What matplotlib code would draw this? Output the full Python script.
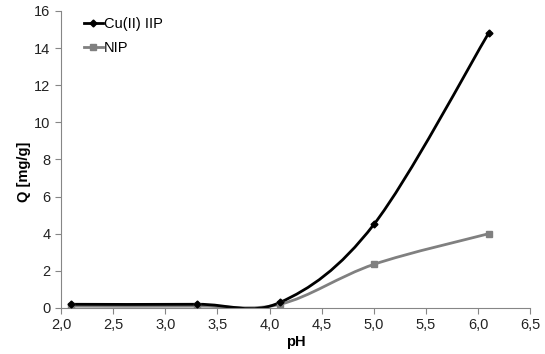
import numpy as np
import matplotlib.pyplot as plt
from matplotlib.path import Path
from matplotlib.patches import PathPatch
from matplotlib.lines import Line2D

plt.rcParams['font.family'] = ['Liberation Sans', 'DejaVu Sans']

# data
ph = [2.1, 3.3, 4.1, 5.0, 6.1]
q_iip = [0.2, 0.2, 0.3, 4.5, 14.8]
q_nip = [0.1, 0.1, 0.2, 2.35, 4.0]

x_ticks = [2.0, 2.5, 3.0, 3.5, 4.0, 4.5, 5.0, 5.5, 6.0, 6.5]
y_ticks = [0, 2, 4, 6, 8, 10, 12, 14, 16]


# Excel-like smoothed line: cubic bezier through the data points
def smooth_path(x, y):
    pts = np.column_stack([x, y])
    n = len(pts)
    verts = [pts[0]]
    codes = [Path.MOVETO]
    for i in range(n - 1):
        p0 = pts[i - 1] if i > 0 else pts[i]
        p1 = pts[i]
        p2 = pts[i + 1]
        p3 = pts[i + 2] if i + 2 < n else pts[i + 1]
        c1 = p1 + (p2 - p0) / 6
        c2 = p2 - (p3 - p1) / 6
        verts += [c1, c2, p2]
        codes += [Path.CURVE4] * 3
    return Path(verts, codes)


fig = plt.figure(figsize=(5.45, 3.54), dpi=100)
ax = fig.add_axes([0.112, 0.130, 0.861, 0.839])

series = [
    (q_nip, '#808080', 's', 4, 'NIP'),
    (q_iip, 'black', 'D', 3.5, 'Cu(II) IIP'),
]
for vals, col, mk, ms, name in series:
    ax.add_patch(PathPatch(smooth_path(ph, vals), fill=False, edgecolor=col, lw=2, zorder=2))
    ax.plot(ph, vals, linestyle='none', marker=mk, ms=ms, color=col, zorder=3)

ax.set_xlim(2.0, 6.5)
ax.set_ylim(0, 16)
ax.set_xticks(x_ticks)
ax.set_xticklabels([f'{t:.1f}'.replace('.', ',') for t in x_ticks])
ax.set_yticks(y_ticks)

for s in ['top', 'right']:
    ax.spines[s].set_visible(False)
for s in ['left', 'bottom']:
    ax.spines[s].set_color('#868686')
ax.tick_params(direction='out', length=4, color='#868686', labelsize=10.5, labelcolor='#222222')

ax.set_xlabel('pH', fontweight='bold', fontsize=10.5, labelpad=2)
ax.set_ylabel('Q [mg/g]', fontweight='bold', fontsize=10.5)
ax.yaxis.set_label_coords(-0.064, 0.46)

handles = [
    Line2D([], [], color='black', lw=2, marker='D', ms=3.5),
    Line2D([], [], color='#808080', lw=2, marker='s', ms=4),
]
ax.legend(handles, ['Cu(II) IIP', 'NIP'], loc='upper left', bbox_to_anchor=(0.02, 1.025),
          frameon=False, handlelength=1.3, handletextpad=0.1, fontsize=10.5, labelspacing=0.7)

fig.savefig('out.png')
